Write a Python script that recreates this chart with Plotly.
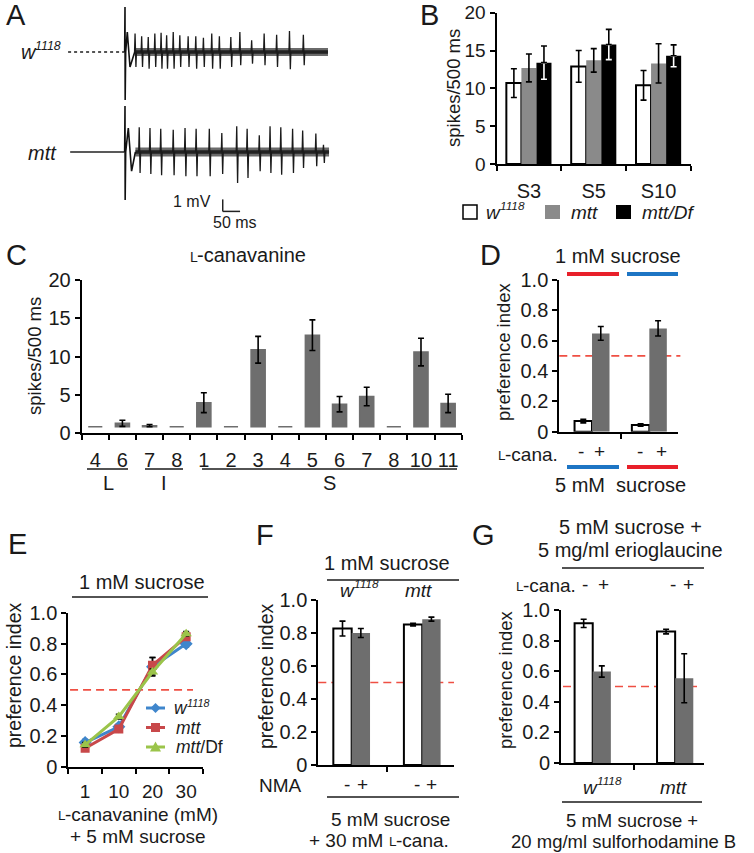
import plotly.graph_objects as go
import numpy as np

W, H = 754, 853
FONT = "Liberation Sans, Arial, sans-serif"
TXT = "#1a1a1a"

# ---------------- DATA ----------------
# Panel A: spike times (ms after stimulus) and amplitudes (mV)
A_W_SPIKE_T = [29, 48, 67, 86, 104, 120, 139, 158, 182, 204, 226, 250, 272, 305, 331, 365, 401, 437, 474, 514]
A_W_SPIKE_UP = [1.53, 1.31, 1.25, 1.53, 1.61, 1.39, 1.67, 1.39, 1.31, 1.31, 1.19, 1.53, 1.31, 1.25, 1.67, 0.97, 1.53, 1.44, 1.75, 1.44]
A_W_SPIKE_DN = [1.25, 1.25, 1.39, 1.25, 1.39, 1.39, 1.39, 1.25, 1.25, 1.39, 1.25, 1.39, 1.39, 1.25, 1.11, 0.97, 1.11, 1.25, 1.44, 1.11]
A_W_ART_T = [-1, 0, 0.5, 2, 6.6, 14.4, 28]
A_W_ART_V = [0, 3.75, -4.0, 0, 1.67, -1.25, 0]
A_W_WINDOW = [-164, 585]

A_M_SPIKE_T = [41, 72, 103, 139, 173, 205, 243, 279, 322, 352, 387, 418, 449, 483, 512, 550, 572]
A_M_SPIKE_UP = [2.06, 2.0, 1.94, 1.86, 2.0, 1.94, 1.94, 1.58, 2.14, 1.94, 1.39, 2.14, 2.06, 1.94, 1.78, 1.53, 0.61]
A_M_SPIKE_DN = [1.75, 1.83, 1.94, 1.94, 2.03, 2.03, 2.03, 1.83, 2.58, 2.17, 1.61, 1.75, 1.89, 1.75, 1.33, 1.19, 0.92]
A_M_ART_T = [-1, 0, 0.5, 2, 9.5, 19, 30]
A_M_ART_V = [0, 3.83, -4.0, 0, 2.0, -1.6, 0]
A_M_WINDOW = [-158, 588]

# Panel B
B_CATS = ["S3", "S5", "S10"]
B_W = [10.7, 12.9, 10.4]
B_W_ERR = [1.9, 2.1, 1.95]
B_M = [12.7, 13.7, 13.3]
B_M_ERR = [1.85, 1.55, 2.6]
B_D = [13.4, 15.8, 14.3]
B_D_ERR = [2.2, 2.0, 1.45]

# Panel C
C_CATS = ["4", "6", "7", "8", "1", "2", "3", "4", "5", "6", "7", "8", "10", "11"]
C_VALS = [0, 1.3, 1.0, 0, 4.0, 0, 10.9, 0, 12.8, 3.8, 4.8, 0, 10.6, 3.9]
C_ERR = [0, 0.4, 0.15, 0, 1.3, 0, 1.75, 0, 2.0, 1.0, 1.2, 0, 1.8, 1.2]

# Panel D
D_MINUS = [0.070, 0.044]
D_MINUS_ERR = [0.012, 0.008]
D_PLUS = [0.648, 0.681]
D_PLUS_ERR = [0.045, 0.05]

# Panel E
E_CONC = ["1", "10", "20", "30"]
E_W = [0.157, 0.26, 0.65, 0.80]
E_W_ERR = [0.02, 0.02, 0.06, 0.02]
E_M = [0.12, 0.245, 0.66, 0.845]
E_M_ERR = [0.01, 0.02, 0.05, 0.02]
E_D = [0.142, 0.326, 0.616, 0.865]
E_D_ERR = [0.015, 0.015, 0.02, 0.015]

# Panel F
F_MINUS = [0.827, 0.851]
F_MINUS_ERR = [0.045, 0.008]
F_PLUS = [0.80, 0.884]
F_PLUS_ERR = [0.027, 0.012]

# Panel G
G_MINUS = [0.913, 0.859]
G_MINUS_ERR = [0.027, 0.015]
G_PLUS = [0.598, 0.554]
G_PLUS_ERR = [0.037, 0.16]

PI_TICKS = [0, 0.2, 0.4, 0.6, 0.8, 1.0]
PI_TEXT = ["0", "0.2", "0.4", "0.6", "0.8", "1.0"]
SP_TICKS = [0, 5, 10, 15, 20]

# ---------------- helpers ----------------
def fx(p):
    return p / W


def fy(p):
    return 1 - p / H


fig = go.Figure()
annotations = []
shapes = []

# Arial / Liberation Sans advance widths (1/1000 em)
AW = {' ': 278, '-': 333, '.': 278, '(': 333, ')': 333, '+': 584, '/': 278,
      'a': 556, 'b': 556, 'c': 500, 'd': 556, 'e': 556, 'f': 278, 'g': 556, 'h': 556,
      'i': 222, 'k': 500, 'l': 222, 'm': 833, 'n': 556, 'o': 556, 'p': 556, 'r': 333,
      's': 500, 't': 278, 'u': 556, 'v': 500, 'w': 722, 'x': 500, 'L': 556, 'M': 833,
      'B': 667, 'D': 722}


def textw(s, size):
    return sum(AW.get(ch, 556) for ch in s) / 1000.0 * size


def ann(px, py, text, size=20, xanchor="center", yanchor="middle", angle=0):
    annotations.append(dict(x=fx(px), y=fy(py), xref="paper", yref="paper", text=text,
                            showarrow=False, font=dict(family=FONT, size=size, color=TXT),
                            xanchor=xanchor, yanchor=yanchor, textangle=angle))


def rich(px, py_mid, pieces, anchor="center", ref_size=20):
    """pieces: list of (text, size, rise_px, italic); laid out left to right on one baseline."""
    baseline = py_mid + 0.347 * ref_size
    total = sum(textw(t, s) for t, s, _, _ in pieces)
    x = px - total / 2 if anchor == "center" else (px - total if anchor == "right" else px)
    for t, s, rise, it in pieces:
        lead = len(t) - len(t.lstrip(" "))
        core = t.strip(" ")
        xl = x + textw(" " * lead, s)
        annotations.append(dict(x=fx(xl), y=fy(baseline - rise + 0.212 * s), xref="paper",
                                yref="paper", xanchor="left", yanchor="bottom",
                                text=("<i>%s</i>" % core) if it else core, showarrow=False,
                                font=dict(family=FONT, size=s, color=TXT),
                                borderpad=0, borderwidth=0))
        x += textw(t, s)


def w1118(px, py, size=20, anchor="center"):
    rich(px, py, [("w", size, 0, True), ("1118", round(size * 0.62, 1), size * 0.42, True)],
         anchor=anchor, ref_size=size)


def hline(x0, x1, y, color=TXT, width=1.5):
    shapes.append(dict(type="line", xref="paper", yref="paper", x0=fx(x0), x1=fx(x1),
                       y0=fy(y), y1=fy(y), line=dict(color=color, width=width)))


def pathpx(pts, fill):
    d = "M " + " L ".join(f"{fx(x):.5f},{fy(y):.5f}" for x, y in pts) + " Z"
    shapes.append(dict(type="path", xref="paper", yref="paper", path=d, fillcolor=fill,
                       line=dict(color=fill, width=0)))


def rectpx(x0, y0, x1, y1, fill, line_color=None, line_width=0):
    shapes.append(dict(type="rect", xref="paper", yref="paper", x0=fx(x0), x1=fx(x1),
                       y0=fy(y1), y1=fy(y0), fillcolor=fill,
                       line=dict(color=line_color or fill, width=line_width)))


def yaxis_def(ytop, ybot, rng, anchor, tickvals, ticktext=None, size=20):
    return dict(domain=[fy(ybot), fy(ytop)], range=rng, anchor=anchor, showline=True,
                linecolor="black", linewidth=2, ticks="outside", ticklen=5, tickwidth=2,
                tickcolor="black", tickvals=tickvals,
                ticktext=ticktext if ticktext is not None else [str(v) for v in tickvals],
                tickfont=dict(family=FONT, size=size, color=TXT), showgrid=False,
                zeroline=False, fixedrange=True, automargin=False)


def xaxis_def(x0, x1, rng, anchor, tickvals=None, ticktext=None, minor_vals=None, standoff=6,
              size=20):
    d = dict(domain=[fx(x0), fx(x1)], range=rng, anchor=anchor, showline=True,
             linecolor="black", linewidth=2, showgrid=False, zeroline=False, fixedrange=True,
             tickfont=dict(family=FONT, size=size, color=TXT), automargin=False)
    if ticktext is not None:
        d.update(tickmode="array", tickvals=tickvals, ticktext=ticktext, ticks="",
                 showticklabels=True, ticklabelstandoff=standoff)
        if minor_vals is not None:
            d["minor"] = dict(tickmode="array", tickvals=minor_vals, ticks="outside",
                              ticklen=5, tickwidth=2, tickcolor="black")
    else:
        d.update(tickmode="array", tickvals=tickvals, ticks="outside", ticklen=5,
                 tickwidth=2, tickcolor="black", showticklabels=False)
    return d


def err(x, y, e, xa, ya, color="black", up=True, down=True, thickness=1.6, width=3):
    keep = [i for i in range(len(e)) if e[i] > 0]
    xs = [x[i] for i in keep]
    ys = [y[i] for i in keep]
    es = [e[i] for i in keep]
    fig.add_trace(go.Scatter(
        x=xs, y=ys, mode="markers", marker=dict(size=1, color="rgba(0,0,0,0)"),
        error_y=dict(type="data", symmetric=False,
                     array=es if up else [0] * len(es),
                     arrayminus=es if down else [0] * len(es),
                     color=color, thickness=thickness, width=width),
        xaxis=xa, yaxis=ya, hoverinfo="skip", showlegend=False))


GRAY = "#6e6e6e"
RED_DASH = "#ef4f43"

# ---------------- Panel A ----------------
PX_PER_MS = 0.347
PX_PER_MV = 12.0
W_BASE = (215 - 52) / PX_PER_MV
M_BASE = (215 - 152) / PX_PER_MV


def add_recording(base, window, art_t, art_v, sp_t, sp_up, sp_dn, pre_line, band_w):
    fig.add_trace(go.Scatter(x=[window[0], art_t[0]], y=[base, base], mode="lines",
                             line=pre_line, xaxis="x", yaxis="y", hoverinfo="skip"))
    # noise envelope (outer, lighter) and dense core
    fig.add_trace(go.Scatter(x=[art_t[-1], window[1]], y=[base, base], mode="lines",
                             line=dict(color="#6a6a6a", width=band_w), xaxis="x", yaxis="y",
                             hoverinfo="skip"))
    fig.add_trace(go.Scatter(x=[art_t[-1], window[1]], y=[base, base], mode="lines",
                             line=dict(color="#222222", width=3.5), xaxis="x", yaxis="y",
                             hoverinfo="skip"))
    fig.add_trace(go.Scatter(x=art_t, y=[base + v for v in art_v], mode="lines",
                             line=dict(color="#111111", width=1.6), xaxis="x", yaxis="y",
                             hoverinfo="skip"))
    xs, ys = [], []
    for t, u, d in zip(sp_t, sp_up, sp_dn):
        xs += [t - 1.5, t, t + 2.5, t + 4, None]
        ys += [base, base + u, base - d, base, None]
    fig.add_trace(go.Scatter(x=xs, y=ys, mode="lines", line=dict(color="#1a1a1a", width=1.3),
                             xaxis="x", yaxis="y", hoverinfo="skip"))


add_recording(W_BASE, A_W_WINDOW, A_W_ART_T, A_W_ART_V, A_W_SPIKE_T, A_W_SPIKE_UP,
              A_W_SPIKE_DN, dict(color="#555555", width=2, dash="dot"), 8)
add_recording(M_BASE, A_M_WINDOW, A_M_ART_T, A_M_ART_V, A_M_SPIKE_T, A_M_SPIKE_UP,
              A_M_SPIKE_DN, dict(color="#222222", width=1.5), 9)

# scale bar (1 mV, 50 ms)
SB_T0, SB_V0 = 281.6, 0.3
shapes.append(dict(type="line", xref="x", yref="y", x0=SB_T0, x1=SB_T0, y0=SB_V0, y1=SB_V0 + 1,
                   line=dict(color="#222", width=1.5)))
shapes.append(dict(type="line", xref="x", yref="y", x0=SB_T0, x1=SB_T0 + 50, y0=SB_V0, y1=SB_V0,
                   line=dict(color="#222", width=1.5)))

# ---------------- Panel B ----------------
bx = np.arange(len(B_CATS))
BW = 0.232
fig.add_trace(go.Bar(x=bx - BW, y=B_W, width=BW, marker=dict(color="white", line=dict(color="black", width=2)),
                     xaxis="x2", yaxis="y2", hoverinfo="skip"))
fig.add_trace(go.Bar(x=bx, y=B_M, width=BW, marker=dict(color="#8a8a8a", line=dict(width=0)),
                     xaxis="x2", yaxis="y2", hoverinfo="skip"))
fig.add_trace(go.Bar(x=bx + BW, y=B_D, width=BW, marker=dict(color="black", line=dict(width=0)),
                     xaxis="x2", yaxis="y2", hoverinfo="skip"))
err(list(bx - BW), B_W, B_W_ERR, "x2", "y2")
err(list(bx), B_M, B_M_ERR, "x2", "y2")
err(list(bx + BW), B_D, B_D_ERR, "x2", "y2", color="white", up=False)
err(list(bx + BW), B_D, B_D_ERR, "x2", "y2", down=False)

# ---------------- Panel C ----------------
C_BASE = 0.87
cx = np.arange(len(C_CATS))
fig.add_trace(go.Bar(x=cx, y=[max(v - C_BASE, 0) for v in C_VALS], base=C_BASE, width=0.52,
                     marker=dict(color=GRAY, line=dict(color=GRAY, width=1.5)),
                     xaxis="x3", yaxis="y3", hoverinfo="skip"))
err(list(cx), C_VALS, C_ERR, "x3", "y3")

# ---------------- Panel D ----------------
dx = np.arange(2)
DW = 0.305
shapes.append(dict(type="line", xref="x4 domain", yref="y4", x0=0, x1=1.02, y0=0.5, y1=0.5,
                   layer="below", line=dict(color=RED_DASH, width=1.6, dash="8px,5px")))
fig.add_trace(go.Bar(x=dx - DW / 2, y=D_MINUS, width=DW,
                     marker=dict(color="white", line=dict(color="black", width=2)),
                     xaxis="x4", yaxis="y4", hoverinfo="skip"))
fig.add_trace(go.Bar(x=dx + DW / 2, y=D_PLUS, width=DW, marker=dict(color=GRAY, line=dict(width=0)),
                     xaxis="x4", yaxis="y4", hoverinfo="skip"))
err(list(dx - DW / 2), D_MINUS, D_MINUS_ERR, "x4", "y4")
err(list(dx + DW / 2), D_PLUS, D_PLUS_ERR, "x4", "y4")

# ---------------- Panel E ----------------
BLUE, RED, GREEN = "#3f86cc", "#c8484a", "#9bc44a"
ex = np.arange(len(E_CONC))
shapes.append(dict(type="line", xref="x5 domain", yref="y5", x0=0.013, x1=0.926, y0=0.5, y1=0.5,
                   layer="below", line=dict(color=RED_DASH, width=1.6, dash="8px,5px")))
for vals, errs, col, sym, size in [(E_W, E_W_ERR, BLUE, "diamond", 10),
                                   (E_M, E_M_ERR, RED, "square", 9),
                                   (E_D, E_D_ERR, GREEN, "triangle-up", 10)]:
    fig.add_trace(go.Scatter(x=ex, y=vals, mode="lines+markers",
                             line=dict(color=col, width=3),
                             marker=dict(symbol=sym, size=size, color=col),
                             error_y=dict(type="data", array=errs, color="black", thickness=1.5, width=3),
                             xaxis="x5", yaxis="y5", hoverinfo="skip"))

# ---------------- Panel F ----------------
fxs = np.arange(2)
FW = 0.26
shapes.append(dict(type="line", xref="x6 domain", yref="y6", x0=0, x1=1, y0=0.5, y1=0.5,
                   layer="below", line=dict(color=RED_DASH, width=1.6, dash="8px,5px")))
fig.add_trace(go.Bar(x=fxs - FW / 2, y=F_MINUS, width=FW,
                     marker=dict(color="white", line=dict(color="black", width=2)),
                     xaxis="x6", yaxis="y6", hoverinfo="skip"))
fig.add_trace(go.Bar(x=fxs + FW / 2, y=F_PLUS, width=FW, marker=dict(color=GRAY, line=dict(width=0)),
                     xaxis="x6", yaxis="y6", hoverinfo="skip"))
err(list(fxs - FW / 2), F_MINUS, F_MINUS_ERR, "x6", "y6")
err(list(fxs + FW / 2), F_PLUS, F_PLUS_ERR, "x6", "y6")

# ---------------- Panel G ----------------
gx = np.arange(2)
GW = 0.22
shapes.append(dict(type="line", xref="x7 domain", yref="y7", x0=0.014, x1=0.951, y0=0.5, y1=0.5,
                   layer="below", line=dict(color=RED_DASH, width=1.6, dash="8px,5px")))
fig.add_trace(go.Bar(x=gx - GW / 2, y=G_MINUS, width=GW,
                     marker=dict(color="white", line=dict(color="black", width=2)),
                     xaxis="x7", yaxis="y7", hoverinfo="skip"))
fig.add_trace(go.Bar(x=gx + GW / 2, y=G_PLUS, width=GW, marker=dict(color=GRAY, line=dict(width=0)),
                     xaxis="x7", yaxis="y7", hoverinfo="skip"))
err(list(gx - GW / 2), G_MINUS, G_MINUS_ERR, "x7", "y7")
err(list(gx + GW / 2), G_PLUS, G_PLUS_ERR, "x7", "y7")

# ---------------- Axes ----------------
layout_axes = dict(
    xaxis=dict(domain=[fx(60), fx(340)], range=[(60 - 125) / PX_PER_MS, (340 - 125) / PX_PER_MS],
               visible=False, fixedrange=True, anchor="y", automargin=False),
    yaxis=dict(domain=[fy(215), fy(0)], range=[0, 215 / PX_PER_MV], visible=False,
               fixedrange=True, anchor="x", automargin=False),
    xaxis2=xaxis_def(496.5, 691, [-0.5, 2.5], "y2", list(bx), B_CATS, [-0.5, 0.5, 1.5, 2.5], 8),
    yaxis2=yaxis_def(12.7, 164, [0, 20], "x2", SP_TICKS, size=19),
    xaxis3=xaxis_def(81.7, 461.7, [-0.5, 13.5], "y3", list(cx), C_CATS,
                     [i - 0.5 for i in range(len(C_CATS) + 1)], 8),
    yaxis3=yaxis_def(280, 433.3, [0, 20], "x3", SP_TICKS),
    xaxis4=xaxis_def(559.3, 678, [-0.571, 1.5], "y4", [0.5]),
    yaxis4=yaxis_def(280, 431.7, [0, 1], "x4", PI_TICKS, PI_TEXT),
    xaxis5=xaxis_def(68.3, 203, [-0.5, 3.5], "y5", list(ex), E_CONC,
                     [-0.5, 0.5, 1.5, 2.5, 3.5], 6, size=19),
    yaxis5=yaxis_def(613, 766.7, [0, 1], "x5", PI_TICKS, PI_TEXT),
    xaxis6=xaxis_def(318.3, 454, [-0.473, 1.45], "y6", [0.5]),
    yaxis6=yaxis_def(600, 765, [0, 1], "x6", PI_TICKS, PI_TEXT),
    xaxis7=xaxis_def(561, 704, [-0.385, 1.35], "y7", [0.5]),
    yaxis7=yaxis_def(610, 763, [0, 1], "x7", PI_TICKS, PI_TEXT),
)

# ---------------- Text & decorations ----------------
# panel letters
for letter, px_, py_ in [("A", 15.5, 15), ("B", 429, 15), ("C", 16, 255), ("D", 491, 255),
                         ("E", 17, 544), ("F", 265, 535), ("G", 484, 535)]:
    ann(px_, py_, letter, size=29)

# A
w1118(42, 52, size=20)
ann(42, 153, "<i>mtt</i>", size=20)
ann(192, 201, "1 mV", size=16)
ann(235, 222, "50 ms", size=16)

# B
ann(454, 88, "spikes/500 ms", size=18.5, angle=-90)
rectpx(463, 205, 477, 219, "white", "black", 1.5)
rectpx(545, 205, 560, 219, "#8a8a8a")
rectpx(616, 205, 631, 219, "black")
w1118(486, 212, size=19, anchor="left")
ann(569, 212, "<i>mtt</i>", size=19, xanchor="left")
ann(640, 212, "<i>mtt/Df</i>", size=19, xanchor="left")

# C
rich(248, 255, [("L", 14, 0, False), ("-canavanine", 20, 0, False)])
ann(34, 356, "spikes/500 ms", size=18.5, angle=-90)
hline(87, 128, 469)
hline(145, 183, 469)
hline(202, 457, 469)
ann(108, 483, "L", size=20)
ann(164, 483, "I", size=20)
ann(329, 483, "S", size=20)

# D
ann(504, 352, "preference index", size=18.5, angle=-90)
ann(618, 256, "1 mM sucrose", size=20)
hline(567, 619, 274, color="#e8202a", width=4)
hline(627, 678, 274, color="#1d75c4", width=4)
rich(558, 454, [("L", 13.5, 0, False), ("-cana.", 19, 0, False)], anchor="right", ref_size=19)
for px_, s in [(581, "-"), (599, "+"), (640, "-"), (661, "+")]:
    ann(px_, 451, s, size=19)
hline(567, 619, 467, color="#1d75c4", width=4)
hline(627, 678, 467, color="#e8202a", width=4)
ann(620, 485, "5 mM  sucrose", size=20)

# E
ann(142, 582, "1 mM sucrose", size=20)
hline(72, 208, 597)
ann(14, 675, "preference index", size=19.5, angle=-90)
rich(138, 814, [("L", 13.5, 0, False), ("-canavanine (mM)", 19, 0, False)], ref_size=19)
ann(138, 836, "+ 5 mM sucrose", size=19)
for (yy, col, kind) in [(708, BLUE, "d"), (727.5, RED, "s"), (747, GREEN, "t")]:
    hline(146, 165, yy, color=col, width=3)
    c = 155.5
    if kind == "d":
        pathpx([(c - 5, yy), (c, yy - 5), (c + 5, yy), (c, yy + 5)], col)
    elif kind == "s":
        pathpx([(c - 4.5, yy - 4.5), (c + 4.5, yy - 4.5), (c + 4.5, yy + 4.5), (c - 4.5, yy + 4.5)], col)
    else:
        pathpx([(c - 5.5, yy + 4.5), (c, yy - 5.5), (c + 5.5, yy + 4.5)], col)
w1118(174, 708, size=17.5, anchor="left")
ann(174, 727.5, "<i>mtt</i>", size=17.5, xanchor="left")
ann(174, 747, "<i>mtt</i>/Df", size=17.5, xanchor="left")

# F
ann(387, 563, "1 mM sucrose", size=20)
hline(327, 459, 580)
w1118(360, 590, size=19)
ann(418, 590, "<i>mtt</i>", size=19)
ann(266, 676, "preference index", size=19.5, angle=-90)
ann(280, 785, "NMA", size=19)
for px_, s in [(347, "-"), (362, "+"), (417, "-"), (431, "+")]:
    ann(px_, 784, s, size=19)
hline(327, 459, 797)
ann(390, 819, "5 mM sucrose", size=19)
rich(379, 840, [("+ 30 mM ", 19, 0, False), ("L", 13.5, 0, False), ("-cana.", 19, 0, False)],
     ref_size=19)

# G
ann(630, 527, "5 mM sucrose +", size=20)
ann(630, 550, "5 mg/ml erioglaucine", size=20)
hline(562, 704, 568)
rich(576, 585, [("L", 13.5, 0, False), ("-cana.", 19, 0, False)], anchor="right", ref_size=19)
for px_, s in [(585, "-"), (603, "+"), (673, "-"), (688, "+")]:
    ann(px_, 584, s, size=19)
ann(505, 680, "preference index", size=18.5, angle=-90)
w1118(603, 787, size=19)
ann(673, 787, "<i>mtt</i>", size=19)
hline(562, 702, 802)
ann(632, 820.5, "5 mM sucrose +", size=18.5)
ann(623, 841, "20 mg/ml sulforhodamine B", size=18.5)

fig.update_layout(
    width=W, height=H, margin=dict(l=0, r=0, t=0, b=0, pad=0, autoexpand=False), autosize=False,
    paper_bgcolor="white", plot_bgcolor="white", showlegend=False, barmode="overlay",
    font=dict(family=FONT, color=TXT), annotations=annotations, shapes=shapes,
    **layout_axes,
)

fig.write_html(
    "out.html",
    config={"displayModeBar": False},
    post_script="document.body.style.margin='0px';document.body.style.padding='0px';"
                "document.body.style.overflow='hidden';",
)
